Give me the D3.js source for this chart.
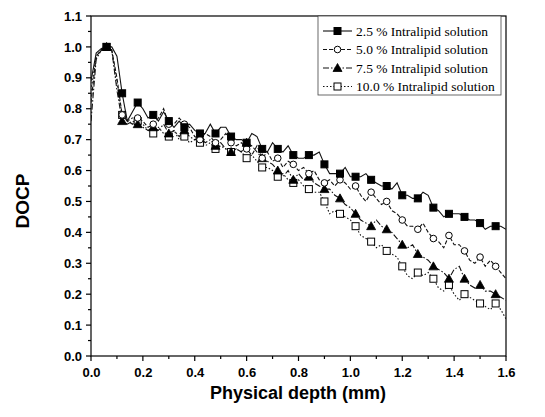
<!DOCTYPE html>
<html><head><meta charset="utf-8">
<script src="https://cdn.jsdelivr.net/npm/d3@7"></script>
<style>body{margin:0;background:#fff}</style>
</head><body>
<svg id="chart" width="545" height="417"></svg>
<script>
const depth = [0.00,0.02,0.04,0.06,0.08,0.10,0.12,0.14,0.16,0.18,0.20,0.22,0.24,0.26,0.28,0.30,0.32,0.34,0.36,0.38,0.40,0.42,0.44,0.46,0.48,0.50,0.52,0.54,0.56,0.58,0.60,0.62,0.64,0.66,0.68,0.70,0.72,0.74,0.76,0.78,0.80,0.82,0.84,0.86,0.88,0.90,0.92,0.94,0.96,0.98,1.00,1.02,1.04,1.06,1.08,1.10,1.12,1.14,1.16,1.18,1.20,1.22,1.24,1.26,1.28,1.30,1.32,1.34,1.36,1.38,1.40,1.42,1.44,1.46,1.48,1.50,1.52,1.54,1.56,1.58,1.60];
const s25 = [0.89,0.98,0.995,1.00,1.00,0.97,0.85,0.76,0.79,0.82,0.80,0.77,0.78,0.76,0.79,0.76,0.74,0.76,0.74,0.75,0.73,0.72,0.72,0.75,0.72,0.74,0.74,0.71,0.70,0.70,0.69,0.72,0.71,0.67,0.66,0.69,0.67,0.66,0.68,0.65,0.64,0.64,0.65,0.65,0.66,0.62,0.59,0.59,0.59,0.61,0.58,0.58,0.58,0.59,0.57,0.56,0.55,0.55,0.54,0.56,0.52,0.52,0.51,0.51,0.53,0.52,0.48,0.47,0.45,0.46,0.46,0.46,0.45,0.44,0.44,0.43,0.41,0.42,0.42,0.42,0.41];
const s50 = [0.82,0.97,0.99,1.00,0.99,0.90,0.78,0.76,0.75,0.77,0.76,0.74,0.75,0.77,0.80,0.75,0.75,0.77,0.75,0.74,0.71,0.70,0.72,0.71,0.69,0.70,0.72,0.69,0.68,0.69,0.67,0.65,0.68,0.64,0.66,0.63,0.64,0.61,0.63,0.62,0.60,0.61,0.59,0.60,0.57,0.56,0.57,0.55,0.57,0.56,0.54,0.55,0.52,0.50,0.53,0.51,0.49,0.50,0.47,0.46,0.44,0.42,0.42,0.41,0.43,0.40,0.38,0.37,0.35,0.39,0.36,0.36,0.34,0.31,0.30,0.32,0.29,0.31,0.29,0.27,0.25];
const s75 = [0.76,0.96,0.99,1.00,0.99,0.86,0.76,0.75,0.76,0.75,0.74,0.73,0.74,0.73,0.75,0.72,0.73,0.71,0.73,0.71,0.70,0.71,0.69,0.70,0.68,0.69,0.67,0.66,0.67,0.66,0.69,0.68,0.66,0.64,0.63,0.62,0.60,0.58,0.60,0.57,0.59,0.57,0.58,0.56,0.55,0.54,0.54,0.52,0.51,0.49,0.48,0.46,0.44,0.43,0.42,0.44,0.42,0.41,0.40,0.38,0.36,0.35,0.36,0.33,0.32,0.31,0.29,0.28,0.27,0.25,0.28,0.29,0.25,0.23,0.22,0.23,0.21,0.21,0.20,0.19,0.18];
const s100 = [0.86,0.97,0.99,1.00,0.99,0.88,0.78,0.76,0.77,0.76,0.75,0.73,0.72,0.74,0.72,0.71,0.73,0.70,0.71,0.69,0.70,0.69,0.68,0.69,0.67,0.68,0.67,0.66,0.67,0.66,0.64,0.65,0.63,0.61,0.61,0.60,0.58,0.59,0.57,0.56,0.57,0.55,0.54,0.53,0.53,0.50,0.46,0.47,0.46,0.45,0.44,0.42,0.39,0.38,0.37,0.35,0.36,0.34,0.33,0.32,0.29,0.26,0.25,0.27,0.26,0.27,0.25,0.22,0.21,0.23,0.20,0.18,0.20,0.19,0.18,0.17,0.16,0.15,0.17,0.15,0.12];
const seriesNames = ["2.5 % Intralipid solution","5.0 % Intralipid solution","7.5 % Intralipid solution","10.0 % Intralipid solution"];
const xTicks = [0.0,0.2,0.4,0.6,0.8,1.0,1.2,1.4,1.6];
const yTicks = [0.0,0.1,0.2,0.3,0.4,0.5,0.6,0.7,0.8,0.9,1.0,1.1];

const series = [
  {name: seriesNames[0], values: s25, dash: null, marker: "sq", fill: "#000"},
  {name: seriesNames[1], values: s50, dash: "4,2", marker: "circ", fill: "#fff"},
  {name: seriesNames[2], values: s75, dash: "6,2,1.5,2", marker: "tri", fill: "#000"},
  {name: seriesNames[3], values: s100, dash: "1.5,2", marker: "sq", fill: "#fff"}
];

const svg = d3.select("#chart");
const L = 91, R = 506, T = 16, B = 356;
const x = d3.scaleLinear().domain([0, 1.6]).range([L, R]);
const y = d3.scaleLinear().domain([0, 1.1]).range([B, T]);

// frame
svg.append("rect").attr("x", L).attr("y", T).attr("width", R - L).attr("height", B - T)
  .attr("fill", "none").attr("stroke", "#000").attr("stroke-width", 1.2);

// minor ticks
const g = svg.append("g");
d3.range(0, 17).forEach(i => {
  const v = i / 10;
  g.append("line").attr("x1", x(v)).attr("x2", x(v)).attr("y1", B).attr("y2", B + (i % 2 === 0 ? 5 : 3))
    .attr("stroke", "#000").attr("stroke-width", 1.2);
});
d3.range(0, 23).forEach(i => {
  const v = i / 20;
  g.append("line").attr("y1", y(v)).attr("y2", y(v)).attr("x1", L).attr("x2", L - (i % 2 === 0 ? 5 : 3))
    .attr("stroke", "#000").attr("stroke-width", 1.2);
});

// axes labels via d3 axes (ticks hidden, custom ticks above)
const xAxis = svg.append("g").attr("transform", `translate(0,${B})`)
  .call(d3.axisBottom(x).tickValues(xTicks).tickFormat(d3.format(".1f")).tickSize(0).tickPadding(12));
xAxis.select(".domain").remove();
xAxis.selectAll("text").attr("font-family", "Liberation Sans, Arial, sans-serif").attr("font-weight", "bold")
  .attr("font-size", 13).attr("fill", "#000");
const yAxis = svg.append("g").attr("transform", `translate(${L},0)`)
  .call(d3.axisLeft(y).tickValues(yTicks).tickFormat(d3.format(".1f")).tickSize(0).tickPadding(9));
yAxis.select(".domain").remove();
yAxis.selectAll("text").attr("font-family", "Liberation Sans, Arial, sans-serif").attr("font-weight", "bold")
  .attr("font-size", 13).attr("fill", "#000");

// titles
svg.append("text").attr("x", 298).attr("y", 399).attr("text-anchor", "middle")
  .attr("font-family", "Liberation Sans, Arial, sans-serif").attr("font-weight", "bold").attr("font-size", 18)
  .text("Physical depth (mm)");
svg.append("text").attr("transform", "translate(29,201) rotate(-90)").attr("text-anchor", "middle")
  .attr("font-family", "Liberation Sans, Arial, sans-serif").attr("font-weight", "bold").attr("font-size", 19)
  .text("DOCP");

// clip
svg.append("clipPath").attr("id", "clip").append("rect").attr("x", L).attr("y", T).attr("width", R - L).attr("height", B - T);

function drawMarker(sel, type, cx, cy, fill) {
  if (type === "sq") {
    sel.append("rect").attr("x", cx - 3.5).attr("y", cy - 3.5).attr("width", 7).attr("height", 7)
      .attr("fill", fill).attr("stroke", "#000").attr("stroke-width", 1);
  } else if (type === "circ") {
    sel.append("circle").attr("cx", cx).attr("cy", cy).attr("r", 3.3)
      .attr("fill", fill).attr("stroke", "#000").attr("stroke-width", 1);
  } else {
    sel.append("path").attr("d", `M${cx},${cy - 4.5}L${cx + 4.5},${cy + 3.5}L${cx - 4.5},${cy + 3.5}Z`)
      .attr("fill", fill).attr("stroke", "#000").attr("stroke-width", 0.8);
  }
}

const line = d3.line().x((d, i) => x(depth[i])).y(d => y(d));
const plot = svg.append("g").attr("clip-path", "url(#clip)");
series.slice().reverse().forEach(s => {
  plot.append("path").datum(s.values).attr("d", line).attr("fill", "none")
    .attr("stroke", "#111").attr("stroke-width", 1.1).attr("stroke-dasharray", s.dash);
});
series.slice().reverse().forEach(s => {
  const mg = svg.append("g");
  s.values.forEach((v, i) => {
    if (i % 3 === 0 && i > 0 && i < depth.length - 1) drawMarker(mg, s.marker, x(depth[i]), y(v), s.fill);
  });
});

// legend
const lg = svg.append("g");
lg.append("rect").attr("x", 318).attr("y", T).attr("width", 183).attr("height", 79)
  .attr("fill", "#fff").attr("stroke", "#444").attr("stroke-width", 0.8);
series.forEach((s, i) => {
  const ly = 31 + i * 18.5;
  lg.append("line").attr("x1", 323).attr("x2", 352).attr("y1", ly).attr("y2", ly)
    .attr("stroke", "#111").attr("stroke-width", 1.1).attr("stroke-dasharray", s.dash);
  drawMarker(lg, s.marker, 337.5, ly, s.fill);
  lg.append("text").attr("x", 356).attr("y", ly + 4.5)
    .attr("font-family", "Liberation Serif, Times New Roman, serif").attr("font-size", 13.5)
    .text(s.name);
});
</script>
</body></html>
